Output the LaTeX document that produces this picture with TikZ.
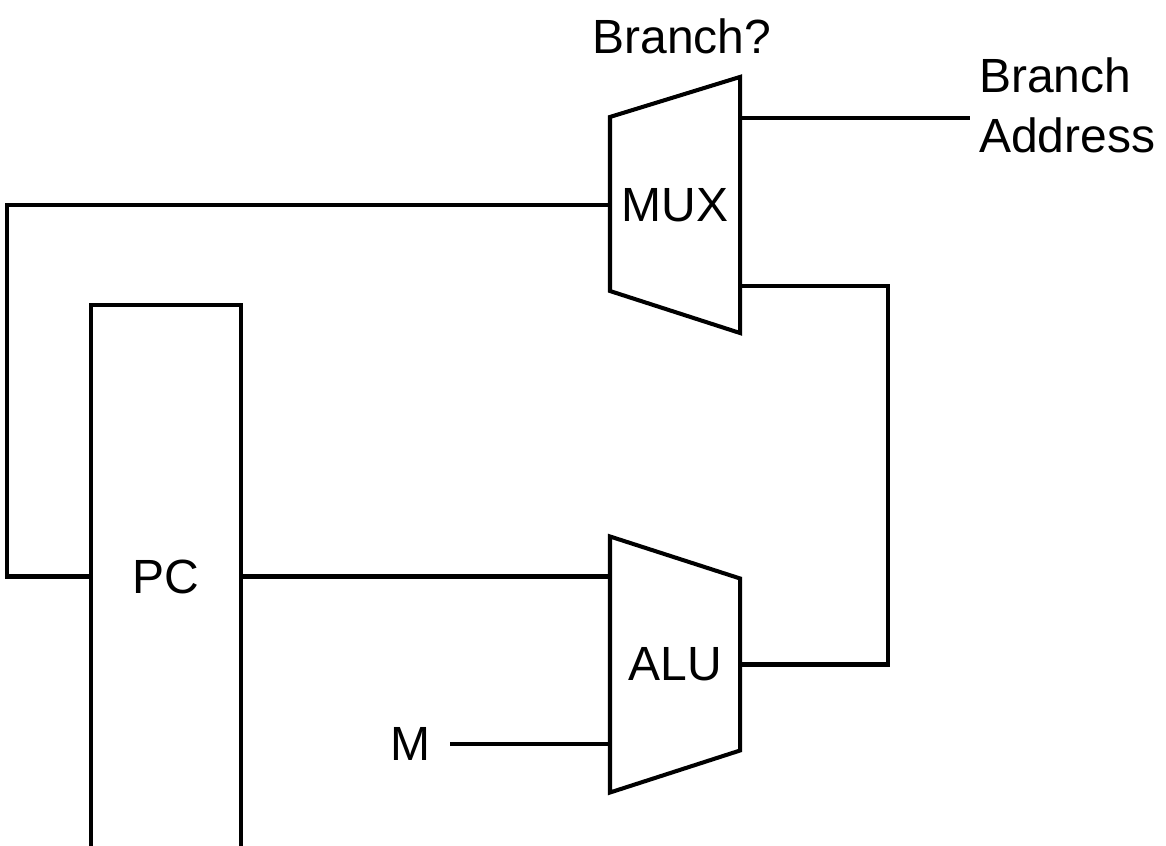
\documentclass[tikz,border=0pt]{standalone}
\usepackage{fontspec}
\setmainfont{Liberation Sans}
\usepackage{tikz}
\usetikzlibrary{positioning}

\begin{document}
\begin{tikzpicture}[line width=1.15pt, font=\fontsize{13.66}{17.05}\selectfont,
    unit/.style={rectangle, minimum width=1.26cm, minimum height=2.52cm, inner sep=0pt},
    reg/.style={rectangle, minimum width=1.46cm, minimum height=5.39cm, inner sep=0pt},
    tag/.style={inner sep=0pt}]

    \useasboundingbox (0,0) rectangle (11.66,8.46);

    % Nodes
    \node (pc) [reg] at (1.66,2.695) {PC};
    \node (mux) [unit] at (6.75,6.41) {MUX};
    \node (alu) [unit] at (6.75,1.815) {ALU};
    \node (branch) [tag] at (6.82,8.10) {Branch?};
    \node (addr) [tag, align=left, anchor=west, inner xsep=0.07cm] at (9.70,7.405) {Branch\\Address};
    \node (m) [tag, inner xsep=0.18cm] at (4.10,1.02) {M};

    % Outlines
    \draw (pc.south west) -- (pc.north west) -- (pc.north east) -- (pc.south east);
    \draw (mux.north east) -- (mux.south east) -- ([yshift=0.42cm]mux.south west) -- ([yshift=-0.40cm]mux.north west) -- cycle;
    \draw (alu.north west) -- (alu.south west) -- ([yshift=0.42cm]alu.south east) -- ([yshift=-0.42cm]alu.north east) -- cycle;

    % Links
    \draw (mux.west) -- ++(-6.03,0) |- (pc.west);
    \draw (pc.east) -- (pc.east -| alu.west);
    \draw (m) -- (m -| alu.west);
    \draw (alu.east) -- ++(1.48,0) |- ([yshift=-0.81cm]mux.east);
    \draw ([yshift=0.87cm]mux.east) -- ([yshift=0.87cm]mux.east -| addr.west);
\end{tikzpicture}
\end{document}
